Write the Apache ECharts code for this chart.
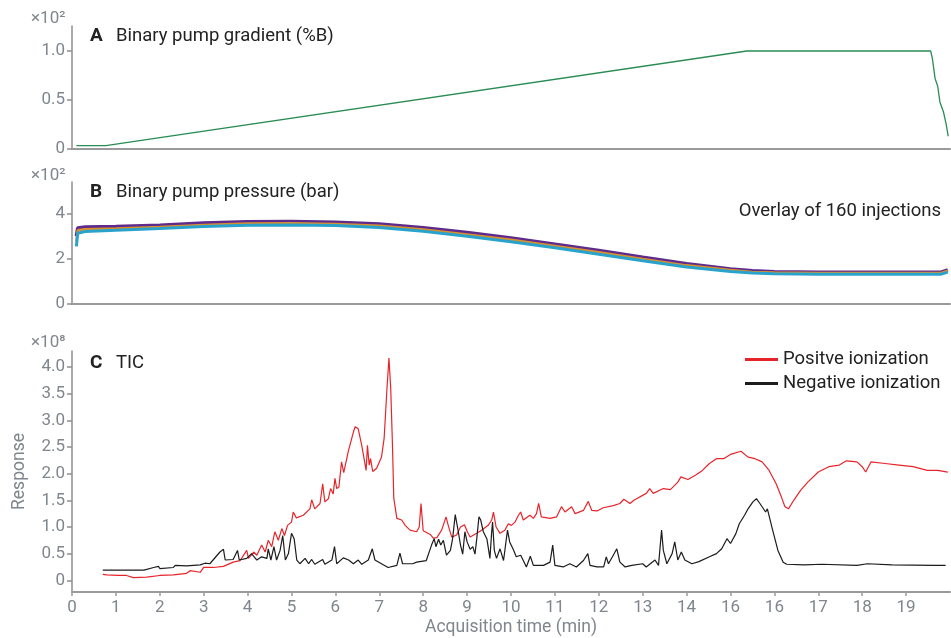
<!DOCTYPE html>
<html>
<head>
<meta charset="utf-8">
<title>LC-MS gradient, pressure and TIC</title>
<script src="https://cdn.jsdelivr.net/npm/echarts@6/dist/echarts.min.js"></script>
<style>
  html, body { margin: 0; padding: 0; background: #ffffff; }
  #chart { width: 951px; height: 638px; }
</style>
</head>
<body>
<div id="chart"></div>
<script>
// x axis ticks (the reference labels 15 as "16")
const xTickValues = [0, 1, 2, 3, 4, 5, 6, 7, 8, 9, 10, 11, 12, 13, 14, 15, 16, 17, 18, 19];
const xTickLabels = ['0', '1', '2', '3', '4', '5', '6', '7', '8', '9', '10', '11', '12', '13', '14', '16', '16', '17', '18', '19'];

// A: binary pump gradient (%B)
const gradientTime = [0.1, 0.77, 15.37, 19.56, 19.6, 19.66, 19.72, 19.77, 19.85, 19.91, 19.96];
const gradientPercent = [3.4, 3.4, 100, 100, 92, 72, 64, 48, 38, 26, 13];
const gradientTicks = [0, 50, 100];

// B: binary pump pressure (bar), upper / middle / lower traces of the overlay
const pressureTime = [0.1, 0.13, 0.3, 1, 2, 3, 4, 5, 6, 7, 8, 9, 10, 11, 12, 13, 14, 15, 15.5, 16, 17, 18, 19, 19.8, 19.95];
const pressureUpper = [300, 336, 341, 343, 349, 358, 364, 365, 362, 354, 337, 316, 292, 265, 237, 207, 178, 155, 147, 143, 141, 141, 141, 141, 151];
const pressureMiddle = [275, 326, 331, 334, 341, 350, 356, 357, 354, 346, 330, 308, 284, 257, 229, 199, 171, 150, 142, 139, 137, 137, 137, 137, 147];
const pressureLower = [255, 313, 321, 326, 334, 343, 349, 350, 347, 339, 322, 300, 276, 249, 220, 191, 164, 144, 137, 134, 132, 132, 132, 132, 141];
const pressureTicks = [0, 200, 400];

// C: TIC, response in units of 1e8
const posTime = [0.70, 0.79, 1.05, 1.24, 1.40, 1.70, 1.74, 2.00, 2.31, 2.61, 2.69, 2.92, 3.00, 3.22, 3.45, 3.67, 3.83, 3.98, 4.02, 4.14,
  4.21, 4.32, 4.40, 4.47, 4.55, 4.62, 4.70, 4.78, 4.84, 4.91, 5.00, 5.04, 5.11, 5.27, 5.42, 5.46, 5.53, 5.65, 5.71, 5.76,
  5.84, 5.89, 5.95, 5.99, 6.03, 6.08, 6.14, 6.19, 6.30, 6.33, 6.41, 6.45, 6.52, 6.60, 6.70, 6.73, 6.77, 6.80, 6.85, 6.94,
  7.05, 7.11, 7.17, 7.22, 7.26, 7.30, 7.33, 7.40, 7.51, 7.59, 7.70, 7.85, 7.91, 7.95, 8.00, 8.16, 8.23, 8.31, 8.42, 8.52,
  8.57, 8.65, 8.76, 8.85, 8.94, 9.01, 9.07, 9.22, 9.33, 9.48, 9.56, 9.60, 9.66, 9.75, 9.86, 9.94, 10.01, 10.09, 10.17, 10.22,
  10.28, 10.43, 10.51, 10.58, 10.63, 10.69, 10.89, 11.04, 11.15, 11.23, 11.38, 11.46, 11.65, 11.76, 11.84, 11.96, 12.10, 12.33, 12.48, 12.57,
  12.71, 12.80, 13.08, 13.16, 13.24, 13.47, 13.63, 13.80, 13.87, 14.03, 14.20, 14.36, 14.52, 14.68, 14.84, 15.00, 15.24, 15.40, 15.56, 15.72,
  15.88, 16.04, 16.16, 16.24, 16.32, 16.44, 16.60, 16.76, 17.00, 17.24, 17.48, 17.64, 17.88, 18.00, 18.08, 18.20, 18.52, 18.84, 19.16, 19.48,
  19.72, 19.95];
const posValue = [0.11, 0.10, 0.09, 0.09, 0.05, 0.06, 0.09, 0.09, 0.10, 0.13, 0.18, 0.15, 0.24, 0.24, 0.26, 0.34, 0.37, 0.56, 0.41, 0.53,
  0.47, 0.66, 0.53, 0.75, 0.63, 0.91, 0.75, 0.97, 0.84, 1.03, 1.09, 1.28, 1.17, 1.22, 1.34, 1.51, 1.34, 1.44, 1.81, 1.47,
  1.53, 1.72, 1.62, 1.91, 1.72, 1.75, 2.22, 2.02, 2.44, 2.53, 2.78, 2.88, 2.84, 2.53, 2.06, 2.53, 2.16, 2.28, 2.04, 2.10,
  2.31, 2.66, 3.53, 4.17, 3.60, 2.53, 1.54, 1.16, 1.13, 1.03, 0.94, 0.91, 1.00, 1.44, 0.93, 0.86, 0.79, 0.80, 0.94, 1.19,
  1.03, 0.81, 0.85, 1.00, 1.04, 0.90, 0.81, 0.88, 0.94, 1.03, 1.13, 1.28, 1.00, 0.88, 0.94, 1.06, 1.03, 1.09, 1.22, 1.28,
  1.13, 1.22, 1.16, 1.25, 1.44, 1.19, 1.16, 1.19, 1.38, 1.28, 1.38, 1.25, 1.31, 1.48, 1.31, 1.30, 1.36, 1.40, 1.44, 1.52,
  1.44, 1.50, 1.63, 1.72, 1.63, 1.72, 1.70, 1.84, 1.94, 1.89, 1.97, 2.06, 2.19, 2.28, 2.28, 2.36, 2.42, 2.31, 2.28, 2.22,
  2.06, 1.81, 1.56, 1.38, 1.34, 1.50, 1.69, 1.84, 2.03, 2.13, 2.16, 2.24, 2.22, 2.13, 2.03, 2.22, 2.19, 2.16, 2.13, 2.06,
  2.06, 2.03];

const negTime = [0.70, 1.64, 1.86, 1.97, 2.00, 2.31, 2.35, 2.61, 2.92, 3.03, 3.14, 3.37, 3.45, 3.49, 3.67, 3.77, 3.81, 3.98, 4.09, 4.21,
  4.32, 4.44, 4.47, 4.53, 4.60, 4.66, 4.74, 4.80, 4.86, 4.93, 5.00, 5.06, 5.12, 5.19, 5.31, 5.39, 5.46, 5.53, 5.71, 5.76,
  5.92, 5.98, 6.03, 6.18, 6.30, 6.41, 6.52, 6.60, 6.75, 6.84, 6.90, 7.05, 7.20, 7.40, 7.47, 7.53, 7.76, 7.85, 8.07, 8.19,
  8.25, 8.29, 8.35, 8.40, 8.46, 8.53, 8.62, 8.67, 8.73, 8.80, 8.85, 8.90, 8.95, 9.00, 9.07, 9.13, 9.18, 9.22, 9.27, 9.31,
  9.37, 9.45, 9.52, 9.56, 9.58, 9.62, 9.67, 9.75, 9.83, 9.92, 9.97, 10.05, 10.12, 10.22, 10.28, 10.35, 10.44, 10.51, 10.74, 10.89,
  10.95, 11.00, 11.19, 11.34, 11.49, 11.65, 11.75, 11.80, 11.96, 12.11, 12.17, 12.22, 12.33, 12.41, 12.48, 12.60, 12.75, 13.00, 13.08, 13.28,
  13.36, 13.43, 13.47, 13.55, 13.67, 13.73, 13.80, 13.88, 13.96, 14.12, 14.28, 14.52, 14.68, 14.80, 14.92, 15.00, 15.12, 15.20, 15.32, 15.40,
  15.51, 15.59, 15.67, 15.80, 15.84, 15.96, 16.08, 16.20, 16.28, 16.68, 17.08, 17.88, 18.12, 18.68, 19.64, 19.90];
const negValue = [0.19, 0.19, 0.24, 0.26, 0.22, 0.24, 0.28, 0.27, 0.29, 0.32, 0.31, 0.53, 0.58, 0.38, 0.39, 0.56, 0.38, 0.41, 0.50, 0.38,
  0.44, 0.41, 0.59, 0.38, 0.63, 0.38, 0.56, 0.84, 0.38, 0.50, 0.88, 0.78, 0.38, 0.31, 0.41, 0.31, 0.39, 0.30, 0.39, 0.30,
  0.38, 0.63, 0.31, 0.42, 0.38, 0.31, 0.38, 0.30, 0.38, 0.59, 0.38, 0.31, 0.24, 0.28, 0.51, 0.31, 0.31, 0.34, 0.37, 0.66,
  0.78, 0.63, 0.77, 0.66, 0.75, 0.47, 0.56, 0.78, 1.23, 0.91, 0.66, 0.49, 0.91, 0.72, 0.58, 0.63, 0.49, 0.78, 1.19, 1.13,
  0.91, 0.78, 0.41, 0.91, 1.09, 0.56, 0.41, 0.59, 0.37, 0.94, 0.72, 0.58, 0.44, 0.47, 0.37, 0.25, 0.45, 0.28, 0.28, 0.34,
  0.66, 0.28, 0.25, 0.31, 0.25, 0.37, 0.50, 0.28, 0.25, 0.25, 0.44, 0.31, 0.47, 0.59, 0.34, 0.25, 0.28, 0.31, 0.25, 0.38,
  0.28, 0.94, 0.56, 0.31, 0.50, 0.72, 0.38, 0.53, 0.38, 0.31, 0.35, 0.44, 0.50, 0.59, 0.78, 0.69, 0.87, 1.06, 1.22, 1.34,
  1.47, 1.53, 1.44, 1.28, 1.34, 0.94, 0.56, 0.34, 0.30, 0.29, 0.30, 0.28, 0.31, 0.29, 0.28, 0.28];
const ticTicks = [0, 0.5, 1.0, 1.5, 2.0, 2.5, 3.0, 3.5, 4.0];

const fontFamily = 'Roboto, "Noto Sans", sans-serif';
const labelGray = '#80868d';
const textDark = '#222222';
const axisGray = '#9a9a9a';

function pairs(xs, ys) {
  return xs.map((x, i) => [x, ys[i]]);
}

function xAxisFor(gridIndex, withLabels) {
  return {
    type: 'value',
    gridIndex: gridIndex,
    min: 0,
    max: 20,
    axisLine: { show: true, onZero: false, lineStyle: { color: axisGray, width: 2 } },
    axisTick: { show: withLabels, length: 4, lineStyle: { color: axisGray, width: 1.5 }, customValues: xTickValues },
    axisLabel: {
      show: withLabels,
      customValues: xTickValues,
      margin: 7,
      fontSize: 17,
      color: labelGray,
      fontFamily: fontFamily,
      formatter: v => xTickLabels[xTickValues.indexOf(Math.round(v))] || ''
    },
    splitLine: { show: false },
    name: withLabels ? 'Acquisition time (min)' : '',
    nameLocation: 'middle',
    nameGap: 27,
    nameTextStyle: { fontSize: 17.5, color: labelGray, fontFamily: fontFamily }
  };
}

function yAxisFor(gridIndex, min, max, ticks, fmt) {
  return {
    type: 'value',
    gridIndex: gridIndex,
    min: min,
    max: max,
    axisLine: { show: true, lineStyle: { color: '#8e8e8e', width: 1.5 } },
    axisTick: { show: true, length: 5, lineStyle: { color: '#8e8e8e', width: 1.5 }, customValues: ticks },
    axisLabel: { customValues: ticks, margin: 7, fontSize: 17, color: labelGray, fontFamily: fontFamily, formatter: fmt },
    splitLine: { show: false }
  };
}

const chart = echarts.init(document.getElementById('chart'), null, { renderer: 'canvas' });

const ticY = yAxisFor(2, -0.22, 4.3, ticTicks, v => (v === 0 ? '0' : v.toFixed(1)));
ticY.name = 'Response';
ticY.nameLocation = 'middle';
ticY.nameGap = 43;
ticY.nameTextStyle = { fontSize: 17.5, color: labelGray, fontFamily: fontFamily };

// titles carry a default padding of 5px, so it is set to 0 here
const panelTitle = (text, left, top, bold) => ({
  text: text, left: left, top: top, padding: 0,
  textStyle: { fontSize: bold ? 19 : 18.5, fontWeight: bold ? 'bold' : 'normal', color: textDark }
});
const powerLabel = (text, top) => ({
  text: text, left: 31, top: top, padding: 0,
  textStyle: { fontSize: 17, fontWeight: 'normal', color: labelGray }
});

const option = {
  backgroundColor: '#ffffff',
  animation: false,
  textStyle: { fontFamily: fontFamily },
  grid: [
    { left: 72, right: 1, top: 26, height: 123 },
    { left: 72, right: 1, top: 182, height: 122 },
    { left: 72, right: 1, top: 351, height: 241 }
  ],
  title: [
    panelTitle('A', 90, 27, true),
    panelTitle('Binary pump gradient (%B)', 116, 27, false),
    panelTitle('B', 90, 183, true),
    panelTitle('Binary pump pressure (bar)', 116, 183, false),
    { text: 'Overlay of 160 injections', right: 10, top: 202, padding: 0,
      textStyle: { fontSize: 18.5, fontWeight: 'normal', color: textDark } },
    panelTitle('C', 90, 354, true),
    panelTitle('TIC', 116, 354, false),
    powerLabel('×10²', 10),
    powerLabel('×10²', 167),
    powerLabel('×10⁸', 334)
  ],
  legend: {
    left: 745,
    top: 350,
    padding: 0,
    orient: 'vertical',
    icon: 'rect',
    itemWidth: 33,
    itemHeight: 3,
    itemGap: 5,
    textStyle: { fontSize: 18.5, color: textDark, fontFamily: fontFamily },
    data: ['Positve ionization', 'Negative ionization']
  },
  xAxis: [xAxisFor(0, false), xAxisFor(1, false), xAxisFor(2, true)],
  yAxis: [
    yAxisFor(0, 0, 125.5, gradientTicks, v => (v === 0 ? '0' : (v / 100).toFixed(1))),
    yAxisFor(1, 0, 540, pressureTicks, v => String(v / 100)),
    ticY
  ],
  series: [
    {
      name: 'Gradient', type: 'line', xAxisIndex: 0, yAxisIndex: 0,
      showSymbol: false, lineStyle: { color: '#2a8c55', width: 1.3 },
      data: pairs(gradientTime, gradientPercent)
    },
    {
      name: 'Pressure upper', type: 'line', xAxisIndex: 1, yAxisIndex: 1,
      showSymbol: false, lineStyle: { color: '#5e2b8c', width: 3.5 },
      data: pairs(pressureTime, pressureUpper)
    },
    {
      name: 'Pressure middle', type: 'line', xAxisIndex: 1, yAxisIndex: 1,
      showSymbol: false, lineStyle: { color: '#d8902e', width: 2.5 },
      data: pairs(pressureTime, pressureMiddle)
    },
    {
      name: 'Pressure lower', type: 'line', xAxisIndex: 1, yAxisIndex: 1,
      showSymbol: false, lineStyle: { color: '#2aa3cc', width: 3 },
      data: pairs(pressureTime, pressureLower)
    },
    {
      name: 'Positve ionization', type: 'line', xAxisIndex: 2, yAxisIndex: 2,
      showSymbol: false, color: '#e8242b', lineStyle: { color: '#e8242b', width: 1.2 },
      data: pairs(posTime, posValue)
    },
    {
      name: 'Negative ionization', type: 'line', xAxisIndex: 2, yAxisIndex: 2,
      showSymbol: false, color: '#1c1c1c', lineStyle: { color: '#1c1c1c', width: 1.2 },
      data: pairs(negTime, negValue)
    }
  ]
};

chart.setOption(option);
</script>
</body>
</html>
